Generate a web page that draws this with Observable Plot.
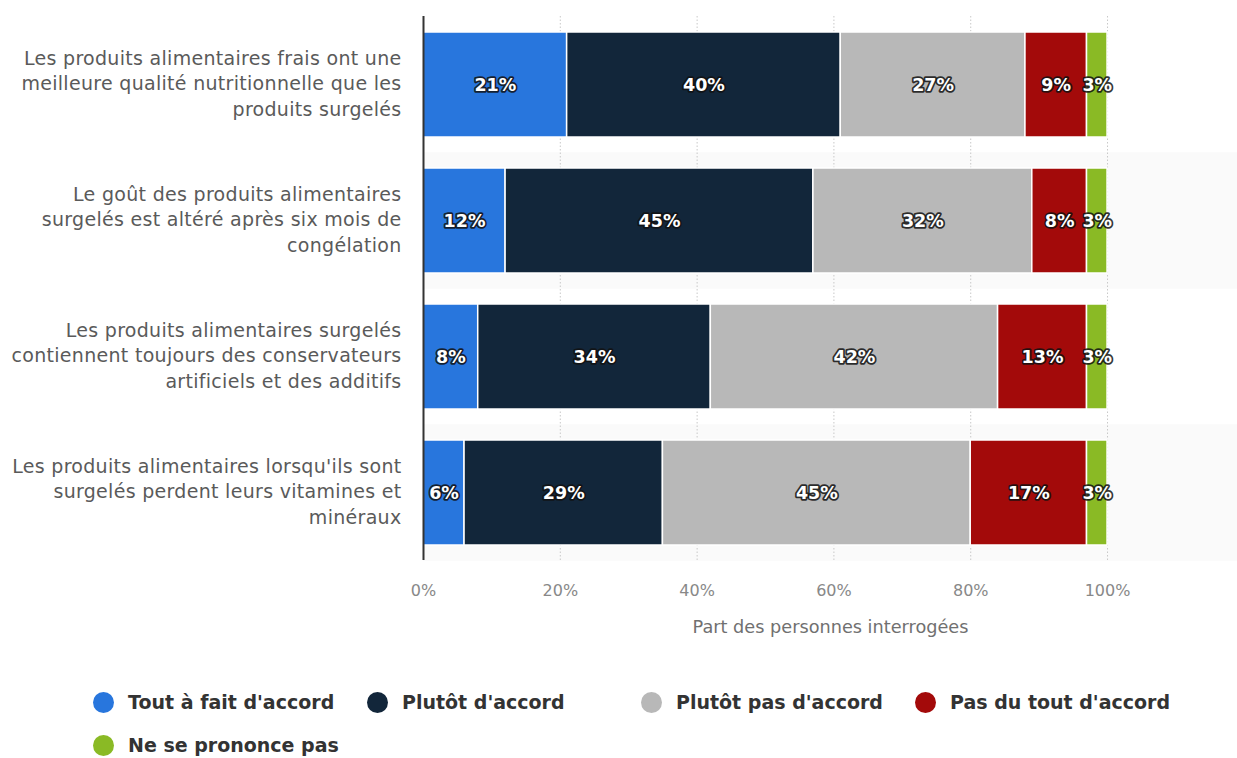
<!DOCTYPE html>
<html>
<head>
<meta charset="utf-8">
<script src="https://cdn.jsdelivr.net/npm/d3@7"></script>
<script src="https://cdn.jsdelivr.net/npm/@observablehq/plot@0.6"></script>
<style>
  body { margin: 0; background: #fff; font-family: "DejaVu Sans", sans-serif; }
  #chart svg { display: block; font-family: "DejaVu Sans", sans-serif; }
  #legend { display: flex; flex-wrap: wrap; margin-left: 93px; margin-top: 50px; width: 1120px; row-gap: 19px; }
  .item { display: flex; align-items: center; width: 274px; height: 24px; font-family: "DejaVu Sans", sans-serif; font-weight: bold; font-size: 19px; color: #333; }
  .dot { width: 21px; height: 21px; border-radius: 50%; margin-right: 14px; flex: none; }
</style>
</head>
<body>
<div id="chart"></div>
<div id="legend"></div>
<script>
const categories = [
  "Les produits alimentaires frais ont une\nmeilleure qualité nutritionnelle que les\nproduits surgelés",
  "Le goût des produits alimentaires\nsurgelés est altéré après six mois de\ncongélation",
  "Les produits alimentaires surgelés\ncontiennent toujours des conservateurs\nartificiels et des additifs",
  "Les produits alimentaires lorsqu'ils sont\nsurgelés perdent leurs vitamines et\nminéraux"
];
const series = ["Tout à fait d'accord", "Plutôt d'accord", "Plutôt pas d'accord", "Pas du tout d'accord", "Ne se prononce pas"];
const colors = ["#2876dd", "#12263a", "#b8b8b8", "#a30a0a", "#8aba25"];
const toutAFait = [21, 12, 8, 6];
const plutot = [40, 45, 34, 29];
const plutotPas = [27, 32, 42, 45];
const pasDuTout = [9, 8, 13, 17];
const nsp = [3, 3, 3, 3];
const xTicks = [0, 20, 40, 60, 80, 100];

const seriesValues = [toutAFait, plutot, plutotPas, pasDuTout, nsp];
const data = [];
categories.forEach((c, i) => {
  series.forEach((s, j) => data.push({cat: c, series: s, value: seriesValues[j][i]}));
});
const bands = categories.filter((c, i) => i % 2 === 1);
const FF = "DejaVu Sans, sans-serif";

const chart = Plot.plot({
  width: 1237,
  height: 640,
  marginLeft: 423,
  marginRight: 0,
  marginTop: 16,
  marginBottom: 80,
  style: "font-family: 'DejaVu Sans', sans-serif; background: #fff;",
  x: {domain: [0, 119]},
  y: {domain: categories, paddingInner: 0.23, paddingOuter: 0.115, axis: null},
  color: {domain: series, range: colors},
  marks: [
    Plot.barX(bands, {y: d => d, x1: 0, x2: 119, fill: "#fafafa", insetTop: -15.7, insetBottom: -15.7}),
    Plot.gridX(xTicks.slice(1), {stroke: "#c8c8c8", strokeOpacity: 1, strokeDasharray: "1.5,2"}),
    Plot.barX(data, Plot.stackX({x: "value", y: "cat", z: "series", fill: "series", stroke: "#fff", strokeWidth: 1.5})),
    Plot.text(data, Plot.stackX({x: "value", y: "cat", z: "series", text: d => d.value + "%",
      fill: "#fff", stroke: "#111", strokeWidth: 3.5, strokeOpacity: 0.85, strokeLinejoin: "round", paintOrder: "stroke",
      fontSize: 17.5, fontWeight: "bold", fontFamily: FF})),
    Plot.ruleX([0], {stroke: "#333", strokeWidth: 2}),
    Plot.text(categories, {y: d => d, x: 0, text: d => d, dx: -22, dy: -3, textAnchor: "end", lineHeight: 1.34,
      fontSize: 19, fill: "#5a5a5a", fontFamily: FF}),
    Plot.axisX({ticks: xTicks, tickFormat: d => d + "%", tickSize: 0, tickPadding: 24, fontSize: 16, color: "#888", fontFamily: FF,
      label: "Part des personnes interrogées", labelAnchor: "center", labelArrow: "none", labelOffset: 72})
  ]
});
chart.querySelectorAll('[aria-label="x-axis label"] text').forEach(t => { t.setAttribute("font-size", 17.7); t.setAttribute("fill", "#707070"); });
chart.querySelectorAll('g[font-size="19"]').forEach(g => g.setAttribute("letter-spacing", "0.3"));
document.getElementById("chart").appendChild(chart);

const legend = document.getElementById("legend");
series.forEach((s, i) => {
  const it = document.createElement("div");
  it.className = "item";
  it.innerHTML = `<span class="dot" style="background:${colors[i]}"></span><span>${s}</span>`;
  legend.appendChild(it);
});
</script>
</body>
</html>
